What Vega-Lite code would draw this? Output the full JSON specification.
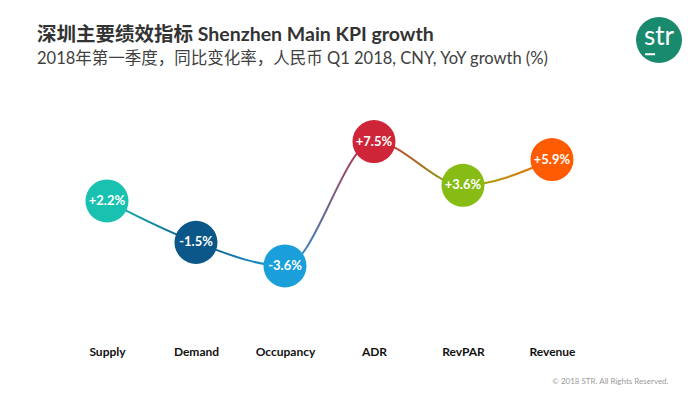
{
  "$schema": "https://vega.github.io/schema/vega-lite/v6.json",
  "width": 623,
  "height": 256,
  "autosize": {"type": "none"},
  "padding": {"left": 0, "right": 77, "top": 80, "bottom": 58},
  "background": "white",
  "config": {"view": {"stroke": null}, "font": "Lato, Noto Sans CJK SC"},
  "title": {
    "text": "深圳主要绩效指标 Shenzhen Main KPI growth",
    "subtitle": "2018年第一季度，同比变化率，人民币 Q1 2018, CNY, YoY growth (%)",
    "anchor": "start",
    "frame": "group",
    "dx": 37,
    "dy": 63,
    "offset": 12,
    "font": "Lato, Noto Sans CJK SC",
    "fontSize": 19.5,
    "fontWeight": "bold",
    "color": "#333333",
    "subtitleFont": "Lato, Noto Sans CJK SC",
    "subtitleFontSize": 16.5,
    "subtitleColor": "#404040",
    "subtitlePadding": 5
  },
  "layer": [
    {
      "data": {
        "values": [
          {"metric": "Supply", "value": 2.2, "label": "+2.2%"},
          {"metric": "Demand", "value": -1.5, "label": "-1.5%"},
          {"metric": "Occupancy", "value": -3.6, "label": "-3.6%"},
          {"metric": "ADR", "value": 7.5, "label": "+7.5%"},
          {"metric": "RevPAR", "value": 3.6, "label": "+3.6%"},
          {"metric": "Revenue", "value": 5.9, "label": "+5.9%"}
        ]
      },
      "encoding": {
        "x": {
          "field": "metric",
          "type": "nominal",
          "sort": null,
          "scale": {"type": "point", "padding": 1, "align": 0.601},
          "axis": {
            "title": "© 2018 STR. All Rights Reserved.",
            "domain": false,
            "ticks": false,
            "grid": false,
            "labelAngle": 0,
            "labelFont": "Lato",
            "labelFontSize": 12,
            "labelFontWeight": "bold",
            "labelColor": "#111111",
            "labelPadding": 10,
            "titleFont": "Lato",
            "titleFontSize": 8,
            "titleFontWeight": "normal",
            "titleColor": "#9a9a9a",
            "titleX": 668,
            "titleY": 47,
            "titleAlign": "right",
            "titleBaseline": "alphabetic"
          }
        },
        "y": {
          "field": "value",
          "type": "quantitative",
          "scale": {"domain": [-9.86, 13], "nice": false, "zero": false},
          "axis": null
        }
      },
      "layer": [
        {
          "mark": {
            "type": "line",
            "interpolate": "monotone",
            "strokeWidth": 2,
            "stroke": {
              "gradient": "linear",
              "x1": 0, "y1": 0, "x2": 1, "y2": 0,
              "stops": [
                {"offset": 0, "color": "#19c1b1"},
                {"offset": 0.2, "color": "#0b578a"},
                {"offset": 0.4, "color": "#1a9fdb"},
                {"offset": 0.6, "color": "#cf2539"},
                {"offset": 0.8, "color": "#86bc14"},
                {"offset": 1, "color": "#ff5b00"}
              ]
            }
          }
        },
        {
          "mark": {"type": "circle", "size": 1850, "opacity": 1},
          "encoding": {
            "color": {
              "field": "metric",
              "type": "nominal",
              "scale": {
                "domain": ["Supply", "Demand", "Occupancy", "ADR", "RevPAR", "Revenue"],
                "range": ["#19c1b1", "#0b578a", "#1a9fdb", "#cf2539", "#86bc14", "#ff5b00"]
              },
              "legend": null
            }
          }
        },
        {
          "mark": {"type": "text", "color": "white", "fontWeight": "bold", "fontSize": 13, "font": "Lato"},
          "encoding": {"text": {"field": "label"}}
        }
      ]
    },
    {
      "data": {"values": [{"logo": "str"}]},
      "layer": [
        {
          "mark": {"type": "circle", "size": 2116, "color": "#1a8a6e", "opacity": 1},
          "encoding": {
            "x": {"datum": 1.0578, "type": "quantitative", "scale": {"domain": [0, 1], "nice": false, "zero": false}, "axis": null},
            "y": {"datum": 16.57, "type": "quantitative"}
          }
        },
        {
          "mark": {"type": "text", "color": "white", "fontSize": 26, "font": "Lato", "dy": -3},
          "encoding": {
            "x": {"datum": 1.0578, "type": "quantitative"},
            "y": {"datum": 16.57, "type": "quantitative"},
            "text": {"field": "logo"}
          }
        },
        {
          "mark": {"type": "rule", "color": "white", "strokeWidth": 2},
          "encoding": {
            "x": {"datum": 1.0355, "type": "quantitative"},
            "x2": {"datum": 1.0515},
            "y": {"datum": 15.3, "type": "quantitative"}
          }
        }
      ]
    }
  ],
  "resolve": {"scale": {"x": "independent"}}
}
